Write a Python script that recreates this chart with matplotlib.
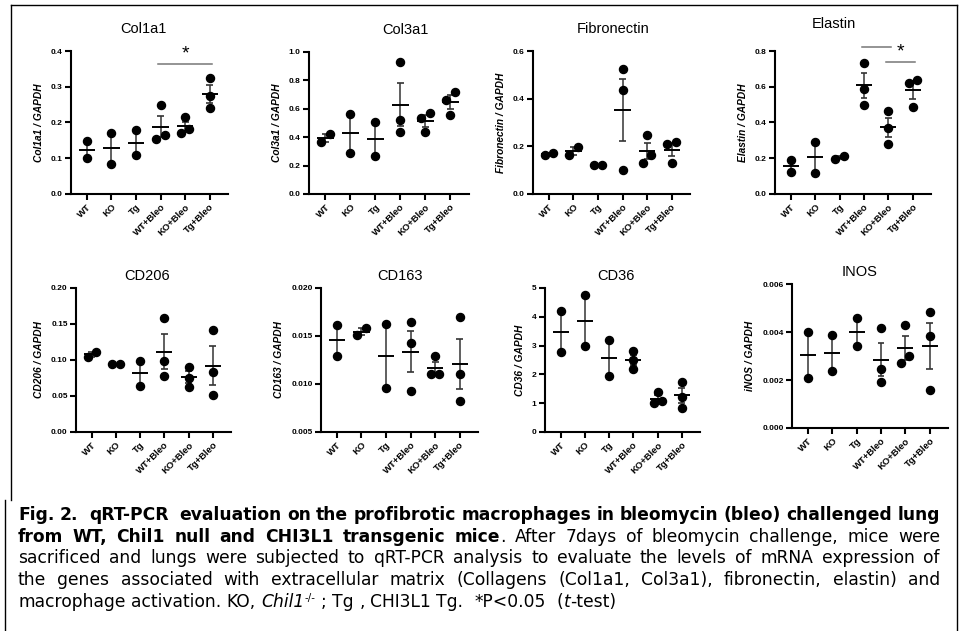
import os
import re
from collections import defaultdict
import numpy as np
import matplotlib
matplotlib.use('Agg')
import matplotlib.pyplot as plt
from matplotlib import font_manager
from matplotlib.font_manager import FontProperties
from matplotlib.lines import Line2D

W, H = 959, 631

groups = ['WT', 'KO', 'Tg', 'WT+Bleo', 'KO+Bleo', 'Tg+Bleo']

col1a1 = [[0.148, 0.100], [0.172, 0.085], [0.178, 0.109],
          [0.248, 0.154, 0.164], [0.214, 0.172, 0.181], [0.324, 0.275, 0.240]]
col3a1 = [[0.367, 0.423], [0.565, 0.290], [0.507, 0.270],
          [0.928, 0.523, 0.437], [0.567, 0.537, 0.437], [0.721, 0.665, 0.556]]
fibronectin = [[0.165, 0.170], [0.165, 0.198], [0.120, 0.120],
               [0.525, 0.435, 0.099], [0.248, 0.165, 0.131], [0.220, 0.209, 0.130]]
elastin = [[0.190, 0.125], [0.290, 0.120], [0.195, 0.210],
           [0.735, 0.590, 0.497], [0.467, 0.370, 0.280], [0.637, 0.622, 0.485]]
cd206 = [[0.1037, 0.1116], [0.094, 0.095], [0.0986, 0.064],
         [0.158, 0.099, 0.078], [0.0907, 0.075, 0.0625], [0.142, 0.0833, 0.0514]]
cd163 = [[0.01615, 0.01294], [0.0151, 0.0158], [0.0163, 0.0096],
         [0.0165, 0.0143, 0.0093], [0.01287, 0.0110, 0.0110], [0.0170, 0.0110, 0.0082]]
cd36 = [[4.19, 2.77], [4.75, 2.97], [3.19, 1.96],
        [2.80, 2.49, 2.19], [1.39, 1.02, 1.07], [1.73, 1.23, 0.85]]
inos = [[0.00401, 0.00207], [0.00388, 0.00236], [0.00457, 0.00342],
        [0.00418, 0.00244, 0.00192], [0.00431, 0.00301, 0.00271], [0.00483, 0.00385, 0.00158]]

# title, y label, data, y ticks, tick format, significance (group a, group b, height)
panels = [
    ('Col1a1', 'Col1a1 / GAPDH', col1a1, np.arange(0, 0.41, 0.1), '%.1f', [(3, 5, 0.365)]),
    ('Col3a1', 'Col3a1 / GAPDH', col3a1, np.arange(0, 1.01, 0.2), '%.1f', []),
    ('Fibronectin', 'Fibronectin / GAPDH', fibronectin, np.arange(0, 0.61, 0.2), '%.1f', []),
    ('Elastin', 'Elastin / GAPDH', elastin, np.arange(0, 0.81, 0.2), '%.1f',
     [(3, 4, 0.825), (4, 5, 0.738)]),
    ('CD206', 'CD206 / GAPDH', cd206, np.arange(0, 0.201, 0.05), '%.2f', []),
    ('CD163', 'CD163 / GAPDH', cd163, np.arange(0.005, 0.0201, 0.005), '%.3f', []),
    ('CD36', 'CD36 / GAPDH', cd36, np.arange(0, 5.1, 1), '%d', []),
    ('INOS', 'iNOS / GAPDH', inos, np.arange(0, 0.00601, 0.002), '%.3f', []),
]

# axes boxes in pixels: left, top, width, height ; title x (axes frac), title pad
layout = [
    (71, 51, 157, 143, 0.46, 13), (309, 52, 160, 142, 0.60, 13),
    (533, 51, 157, 143, 0.51, 13), (775, 51, 156, 143, 0.38, 16.5),
    (76, 288, 155, 144, 0.46, 5.5), (321, 288, 157, 144, 0.50, 5.5),
    (545, 288, 155, 144, 0.46, 5.5), (792, 284, 156, 144, 0.43, 5.5),
]

plt.rcParams['font.family'] = ['Liberation Sans', 'DejaVu Sans']


def swarm(vals, thr, d=0.17):
    order = np.argsort(vals)
    xs = np.zeros(len(vals))
    for k in range(1, len(vals)):
        i, j = order[k], order[k - 1]
        if vals[i] - vals[j] < thr:
            if xs[j] == 0:
                xs[j] = -d
                xs[i] = d
            else:
                xs[i] = -xs[j]
    return xs


fig = plt.figure(figsize=(W / 100, H / 100), dpi=100)

for (title, label, data, yt, fmt, sig), (l, t, w, h, tx, tp) in zip(panels, layout):
    ax = fig.add_axes([l / W, 1 - (t + h) / H, w / W, h / H])
    rng = yt[-1] - yt[0]
    for i, vals in enumerate(data):
        vals = np.array(vals)
        xs = i + swarm(vals, 0.06 * rng)
        ax.plot(xs, vals, 'o', color='k', ms=5.8, zorder=3, clip_on=False)
        m = vals.mean()
        se = vals.std(ddof=1) / np.sqrt(len(vals))
        ax.vlines(i, m - se, m + se, color='#444444', lw=1.2, zorder=2)
        ax.hlines([m - se, m + se], i - 0.14, i + 0.14, color='#333333', lw=1.2, zorder=2)
        ax.hlines(m, i - 0.33, i + 0.33, color='k', lw=1.4, zorder=4)
    for a, b, yy in sig:
        ax.plot([a - 0.1, b + 0.1], [yy, yy], color='#777777', lw=1.1, clip_on=False)
        ax.annotate('*', ((a + b) / 2, yy), xytext=(0, 1), textcoords='offset points',
                    ha='center', va='bottom', fontsize=14)
    ax.set_xlim(-0.65, 5.75)
    ax.set_ylim(yt[0], yt[-1])
    ax.set_yticks(yt)
    ax.set_yticklabels([fmt % v for v in yt], fontsize=6, fontweight='bold')
    ax.set_xticks(range(len(groups)))
    ax.set_xticklabels(groups, rotation=45, ha='right', rotation_mode='anchor',
                       fontsize=6.8, fontweight='bold')
    for s in ['top', 'right']:
        ax.spines[s].set_visible(False)
    for s in ['left', 'bottom']:
        ax.spines[s].set_linewidth(1.5)
    ax.tick_params(width=1.5, length=4, pad=2)
    ax.set_ylabel(label, fontsize=7.3, fontweight='bold', fontstyle='italic', labelpad=5)
    ax.set_title(title, fontsize=10.5, x=tx, pad=tp)


# frame
def fline(xs, ys):
    fig.add_artist(Line2D([x / W for x in xs], [1 - y / H for y in ys],
                          transform=fig.transFigure, color='k', lw=1))


fline([11, 11], [5, 500])
fline([11, 957], [5, 5])
fline([957, 957], [5, 631])
fline([5, 5], [500, 631])

# ---- caption ----
caption = [
    [('Fig. 2.  qRT-PCR  evaluation on the profibrotic macrophages in bleomycin (bleo) challenged lung', 'b')],
    [('from WT, Chil1 null and CHI3L1 transgenic mice', 'b'),
     ('. After 7days of bleomycin challenge, mice were', 'r')],
    [('sacrificed and lungs were subjected to qRT-PCR analysis to evaluate the levels of mRNA expression of', 'r')],
    [('the genes associated with extracellular matrix (Collagens (Col1a1, Col3a1), fibronectin, elastin) and', 'r')],
    [('macrophage activation. KO, ', 'r'), ('Chil1', 'i'), ('-/-', 'sup'),
     (' ; Tg , CHI3L1 Tg.  *P<0.05  (', 'r'), ('t', 'i'), ('-test)', 'r')],
]
baselines = [520, 542, 563, 585, 607]
cx0, cx1 = 18, 940
target_size = 12.2

renderer = fig.canvas.get_renderer()
ttf = font_manager.fontManager.ttflist


def wnum(f):
    return f.weight if isinstance(f.weight, int) else font_manager.weight_dict.get(f.weight, 400)


def width_tag(f):
    m = re.search(r'(Extra|Ultra|Semi)?(Condensed|Narrow|Expanded)', os.path.basename(f.fname))
    return m.group(0) if m else ''


okname = re.compile(r'^(Liberation Sans( Narrow)?|Arial Narrow|Noto Sans( (Semi|Extra)?Condensed)?'
                    r'|Roboto( Condensed)?|Open Sans( (Semi)?Condensed)?|Lato|Inter|DejaVu Sans'
                    r'|.*Narrow|Fira Sans.*Condensed)$')
fam = defaultdict(list)
for f in ttf:
    if okname.match(f.name) and 'Mono' not in f.name:
        fam[(f.name, str(f.stretch), width_tag(f))].append(f)

style_keys = {'b': (True, False), 'r': (False, False), 'i': (False, True), 'sup': (False, False)}


def make_props(entries):
    def pick(bold, italic):
        return min(entries, key=lambda f: abs((700 if bold else 400) - wnum(f))
                   + (0 if (f.style != 'normal') == italic else 1000)).fname

    def props(style, size):
        bold, italic = style_keys[style]
        sz = size * 0.6 if style == 'sup' else size
        return FontProperties(fname=pick(bold, italic), size=sz)
    return props


def measure(props, txt, style, size):
    t = fig.text(0, 0, txt, fontproperties=props(style, size))
    wpx = t.get_window_extent(renderer).width
    t.remove()
    return wpx


def fit_size(props):
    base = 12
    fits = []
    for segs in caption[:4]:
        nat = sum(measure(props, re.sub(' +', ' ', tx), st, base) for tx, st in segs)
        fits.append((cx1 - cx0 - 8) / nat)
    return base * min(fits)


best = None
for key, entries in fam.items():
    if not any(wnum(f) >= 600 and f.style == 'normal' for f in entries):
        continue
    if not any(wnum(f) <= 500 and f.style == 'normal' for f in entries):
        continue
    p = make_props(entries)
    try:
        s = fit_size(p)
    except Exception:
        continue
    score = abs(s - target_size)
    if best is None or score < best[0]:
        best = (score, p, s)

props = best[1]
cap_size = float(np.clip(best[2], 10, 14))


def tokenize(segs):
    tokens = []
    pending = 0
    for text, style in segs:
        for part in re.split(r'( +)', text):
            if not part:
                continue
            if part.isspace():
                pending += len(part)
                continue
            tokens.append([part, style, pending])
            pending = 0
    tokens[0][2] = 0
    return tokens


space_w = measure(props, 'x x', 'r', cap_size) - measure(props, 'xx', 'r', cap_size)

for n, (segs, yb) in enumerate(zip(caption, baselines)):
    tokens = tokenize(segs)
    widths = [measure(props, tok, st, cap_size) for tok, st, _ in tokens]
    nsp = sum(sp for _, _, sp in tokens)
    gap = space_w
    if n < 4 and nsp:
        gap = (cx1 - cx0 - sum(widths)) / nsp
    x = cx0
    for (tok, st, sp), wpx in zip(tokens, widths):
        x += sp * gap
        y = yb - (6 if st == 'sup' else 0)
        fig.text(x / W, 1 - y / H, tok, fontproperties=props(st, cap_size),
                 va='baseline', ha='left')
        x += wpx

fig.savefig('out.png', dpi=100)
